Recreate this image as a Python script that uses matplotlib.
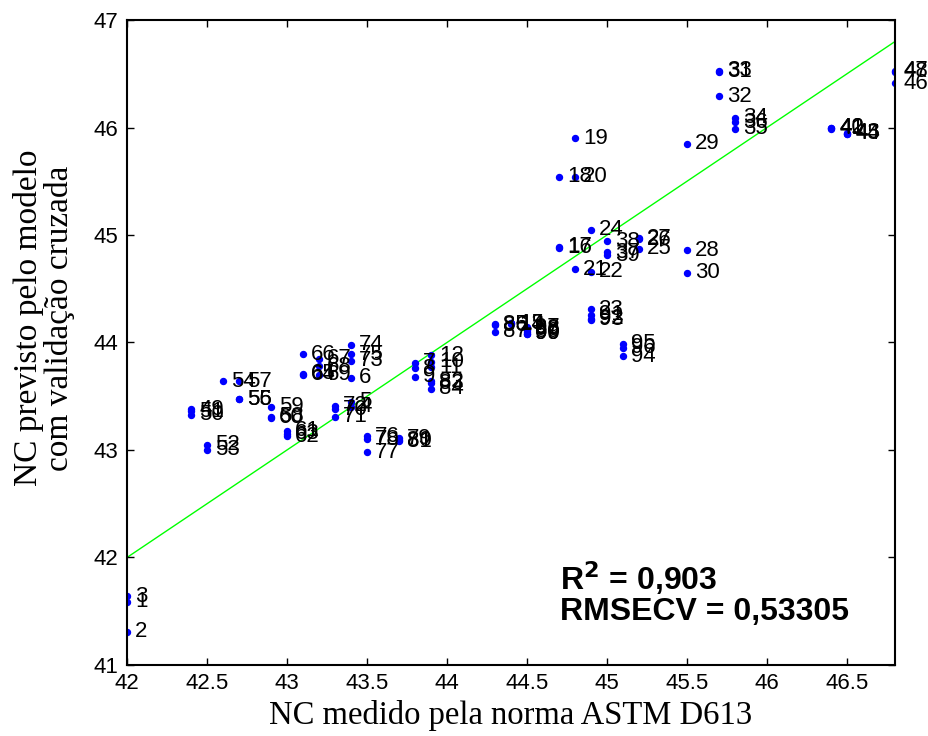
import matplotlib
matplotlib.use('Agg')
from matplotlib import pyplot as plt
import numpy as np

# NC medido (ASTM D613), amostras 1..99
nc_medido = [
    42.0, 42.0, 42.0, 43.4, 43.4, 43.4, 43.8, 43.8, 43.8, 43.9,
    43.9, 43.9, 44.4, 44.4, 44.4, 44.7, 44.7, 44.7, 44.8, 44.8,
    44.8, 44.9, 44.9, 44.9, 45.2, 45.2, 45.2, 45.5, 45.5, 45.5,
    45.7, 45.7, 45.7, 45.8, 45.8, 45.8, 45.0, 45.0, 45.0, 46.4,
    46.4, 46.4, 46.5, 46.5, 46.5, 46.8, 46.8, 46.8, 42.4, 42.4,
    42.4, 42.5, 42.5, 42.6, 42.7, 42.7, 42.7, 42.9, 42.9, 42.9,
    43.0, 43.0, 43.0, 43.1, 43.1, 43.1, 43.2, 43.2, 43.2, 43.3,
    43.3, 43.3, 43.4, 43.4, 43.4, 43.5, 43.5, 43.5, 43.7, 43.7,
    43.7, 43.9, 43.9, 43.9, 44.3, 44.3, 44.3, 44.5, 44.5, 44.5,
    44.9, 44.9, 44.9, 45.1, 45.1, 45.1, 44.5, 44.5, 44.5,
]
# NC previsto (validação cruzada)
nc_previsto = [
    41.59, 41.31, 41.64, 43.40, 43.45, 43.67, 43.81, 43.76, 43.68, 43.82,
    43.77, 43.88, 44.18, 44.17, 44.18, 44.88, 44.89, 45.54, 45.90, 45.54,
    44.68, 44.66, 44.31, 45.05, 44.87, 44.96, 44.97, 44.86, 45.85, 44.65,
    46.52, 46.29, 46.53, 46.09, 45.99, 46.05, 44.84, 44.94, 44.81, 46.00,
    45.99, 46.00, 45.95, 45.94, 45.94, 46.41, 46.53, 46.52, 43.38, 43.33,
    43.36, 43.05, 43.00, 43.64, 43.47, 43.47, 43.64, 43.31, 43.40, 43.30,
    43.18, 43.13, 43.15, 43.70, 43.71, 43.89, 43.85, 43.78, 43.70, 43.38,
    43.31, 43.41, 43.83, 43.98, 43.89, 43.13, 42.98, 43.10, 43.11, 43.09,
    43.08, 43.64, 43.62, 43.57, 44.17, 44.16, 44.10, 44.13, 44.10, 44.08,
    44.26, 44.22, 44.21, 43.87, 43.99, 43.95, 44.14, 44.12, 44.08,
]
amostras = [str(i) for i in range(1, len(nc_medido) + 1)]

xticks = [42, 42.5, 43, 43.5, 44, 44.5, 45, 45.5, 46, 46.5]
xticklabels = ['42', '42.5', '43', '43.5', '44', '44.5', '45', '45.5', '46', '46.5']
yticks = [41, 42, 43, 44, 45, 46, 47]
ref = [42, 46.8]
r2, rmsecv = '0,903', '0,53305'

fig = plt.figure(figsize=(9.29, 7.36), dpi=100)
ax = fig.add_axes([0.1367, 0.0965, 0.9634 - 0.1367, 0.9728 - 0.0965])

ax.plot(ref, ref, '-', c=(0, 1, 0), lw=1, zorder=1)
ax.plot(nc_medido, nc_previsto, 'o', c='blue', ms=4.3, mec='blue', zorder=2)
for x, y, s in zip(nc_medido, nc_previsto, amostras):
    ax.annotate(s, (x, y), xytext=(6, 0), textcoords='offset points',
                va='center', ha='left', fontsize=16, family='Liberation Sans',
                clip_on=False, zorder=3)

ax.set_xlim(42, 46.8)
ax.set_ylim(41, 47)
ax.set_xticks(xticks)
ax.set_xticklabels(xticklabels)
ax.set_yticks(yticks)
ax.tick_params(direction='in', top=True, right=True, length=5, width=1,
               labelsize=16, pad=6)
for lb in ax.get_xticklabels() + ax.get_yticklabels():
    lb.set_family('Liberation Sans')
for sp in ax.spines.values():
    sp.set_linewidth(1.5)

ax.set_xlabel('NC medido pela norma ASTM D613', family='Liberation Serif',
              fontsize=23.5, labelpad=4)
ax.set_ylabel('NC previsto pelo modelo\ncom validação cruzada',
              family='Liberation Serif', fontsize=24, linespacing=1.0)
ax.yaxis.set_label_coords(-0.068, 0.538)

fig.text(0.603, 0.215, f'R$^\\mathbf{{2}}$ = {r2}',
         fontsize=23, fontweight='bold', family='Liberation Sans', va='center')
fig.text(0.603, 0.168, f'RMSECV = {rmsecv}',
         fontsize=23, fontweight='bold', family='Liberation Sans', va='center')

fig.savefig('out.png', dpi=100)
